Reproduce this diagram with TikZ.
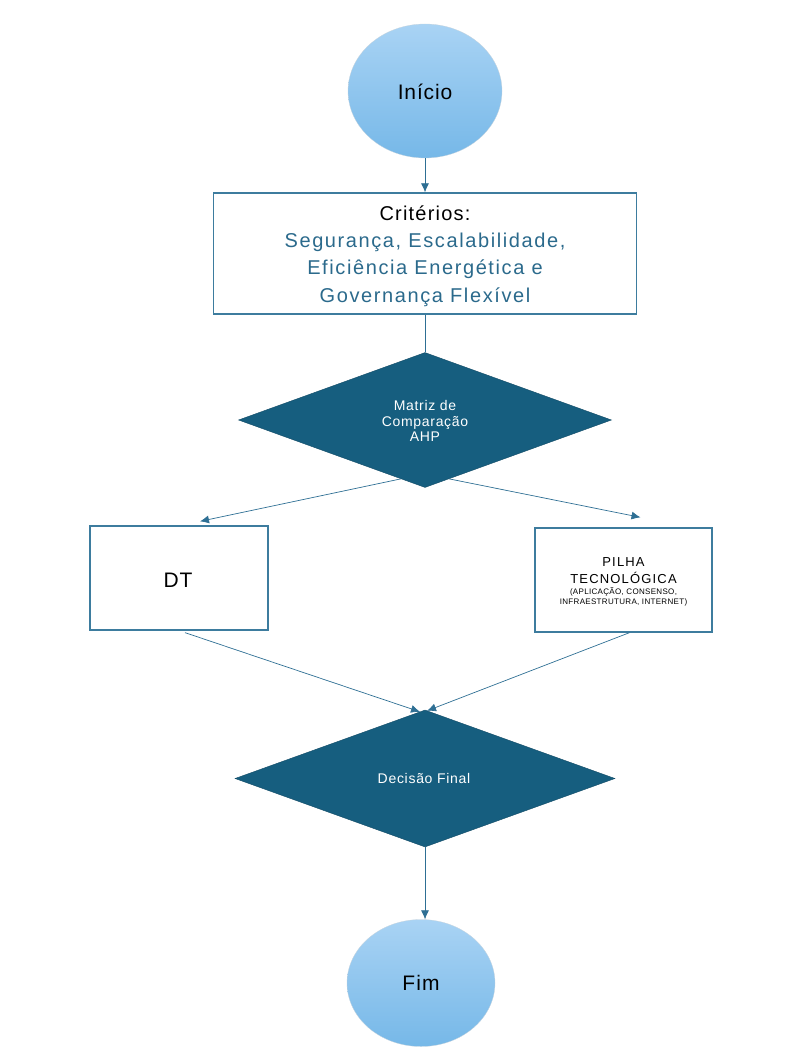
\documentclass[tikz,border=0pt]{standalone}
\usepackage{fontspec}
\setmainfont{Liberation Sans}
\usetikzlibrary{shapes.geometric,arrows.meta,calc}
\definecolor{lineblue}{HTML}{2E6F94}
\definecolor{boxborder}{HTML}{3D7C9E}
\definecolor{diafill}{HTML}{165E7F}
\definecolor{txtblue}{HTML}{2B6A8C}
\definecolor{elltop}{HTML}{A9D3F4}
\definecolor{ellbot}{HTML}{76B8E8}
\newcommand{\bluel}[1]{{\color{txtblue}\addfontfeature{LetterSpace=8}#1}}
\newcommand{\spc}[2]{{\addfontfeature{LetterSpace=#1}#2}}
\newcommand{\smalll}[1]{{\fontsize{8}{9.5}\selectfont\addfontfeature{LetterSpace=4}#1}}
\tikzset{
  terminal/.style={ellipse, draw=elltop!70!black!40, line width=0.3pt, top color=elltop, bottom color=ellbot, inner sep=0pt},
  procbox/.style={rectangle, draw=boxborder, line width=1.3pt, fill=white, inner sep=0pt, align=center},
  decision/.style={diamond, fill=diafill, draw=diafill!80!black, line width=0.4pt, inner sep=0pt, text=white, align=center},
  label/.style={align=center, inner sep=0pt},
  conn/.style={draw=lineblue, line width=0.7pt},
  arr/.style={conn, -{Latex[length=9pt,width=8pt]}},
}
\begin{document}
\begin{tikzpicture}[x=1pt,y=-1pt]
\useasboundingbox (0,0) rectangle (795,1048);
\node[terminal, minimum width=154pt, minimum height=134pt] (ini) at (425,91) {};
\node[label, font=\fontsize{21}{24}\selectfont] (initxt) at (425,92) {\spc{4}{Início}};
\node[procbox, minimum width=423pt, minimum height=121pt] (crit) at (425,253.5) {};
\node[label, font=\fontsize{20}{27.3}\selectfont] (crittxt) at (425,256) {\spc{6}{Critérios:}\\
\bluel{Segurança, Escalabilidade,}\\
\bluel{Eficiência Energética e}\\
\bluel{Governança Flexível}};
\node[decision, minimum width=373pt, minimum height=135pt] (d1) at (425,420) {};
\node[label, text=white, font=\fontsize{14}{15.5}\selectfont] (d1txt) at (425,421) {\spc{5}{Matriz de}\\\spc{5}{Comparação}\\\spc{5}{AHP}};
\node[procbox, minimum width=178pt, minimum height=104pt] (dt) at (179,578) {};
\node[label, font=\fontsize{21}{24}\selectfont] (dttxt) at (178,580) {\spc{4}{DT}};
\node[procbox, minimum width=177pt, minimum height=104pt] (pilha) at (623.5,580) {};
\node[label, font=\fontsize{13}{16.5}\selectfont] (pilhatxt) at (623.5,582) {\spc{9}{PILHA}\\\spc{9}{TECNOLÓGICA}\\[-5pt]
\smalll{(APLICAÇÃO, CONSENSO,}\\[-6.5pt]
\smalll{INFRAESTRUTURA, INTERNET)}};
\node[decision, minimum width=380pt, minimum height=137pt] (d2) at (425,778.5) {};
\node[label, text=white, font=\fontsize{14}{16}\selectfont] (d2txt) at (424,778) {\spc{5}{Decisão Final}};
\node[terminal, minimum width=148pt, minimum height=127pt] (fim) at (421,983) {};
\node[label, font=\fontsize{21}{24}\selectfont] (fimtxt) at (421,983) {\spc{5}{Fim}};
% connectors
\draw[arr] (ini.south) -- (crit.north);
\draw[conn] (crit.south) -- (d1.north);
\draw[arr] ($(d1.south)!0.13!(d1.west)$) -- ($(dt.north)+(21,-4)$);
\draw[arr] ($(d1.south)!0.13!(d1.east)$) -- ($(pilha.north)+(17,-10)$);
\draw[arr] ($(dt.south)+(6,2)$) -- ($(d2.north)+(-5,2)$);
\draw[arr] ($(pilha.south)+(6,0)$) -- ($(d2.north)+(2,1)$);
\draw[arr] (d2.south) -- (d2.south |- fim.north);
\end{tikzpicture}
\end{document}
